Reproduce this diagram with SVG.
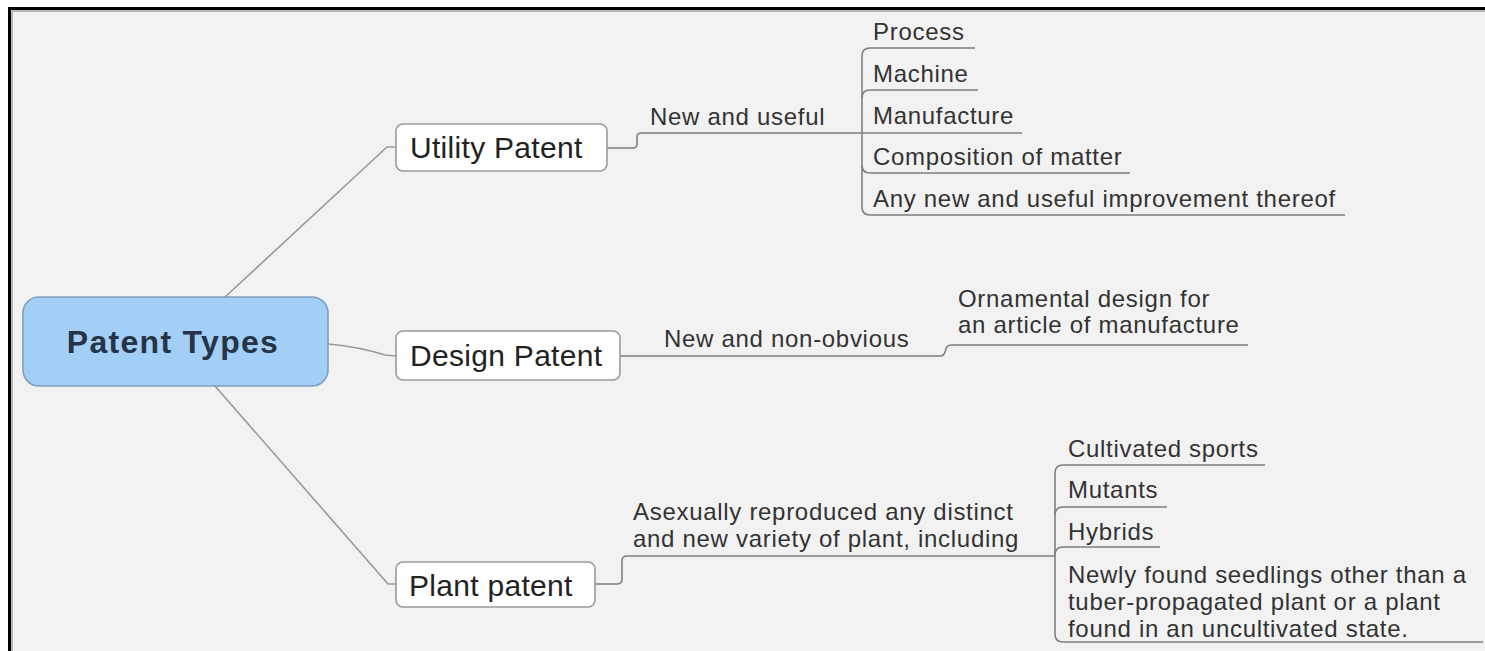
<svg xmlns="http://www.w3.org/2000/svg" width="1485" height="651" viewBox="0 0 1485 651">
<style>
.bg{fill:#f2f2f2}
.frame{stroke:#000;stroke-width:3;fill:none}
.inner{stroke:#b5b5b5;stroke-width:2;fill:none}
.conn{stroke:#9a9a9a;stroke-width:1.6;fill:none}
.ul{stroke:#7f7f7f;stroke-width:1.6;fill:none}
.box{fill:#fff;stroke:#9a9a9a;stroke-width:1.6}
.root{fill:#a3cff6;stroke:#7f9fbf;stroke-width:1.6}
.rt{font-family:"Liberation Sans",Arial,sans-serif;font-weight:bold;font-size:32px;letter-spacing:1.3px;fill:#253547}
.bt{font-family:"Liberation Sans",Arial,sans-serif;font-size:30px;letter-spacing:0.3px;fill:#222}
.lt{font-family:"Liberation Sans",Arial,sans-serif;font-size:24px;letter-spacing:0.7px;fill:#333}
</style>
<rect x="0" y="0" width="1485" height="651" fill="#fff"/>
<rect class="bg" x="10" y="9" width="1475" height="642"/>
<g id="frame">
<line class="inner" x1="12" y1="11" x2="1485" y2="11"/>
<line class="inner" x1="12" y1="11" x2="12" y2="651"/>
<line class="frame" x1="8" y1="8.5" x2="1485" y2="8.5"/>
<line class="frame" x1="9.5" y1="7" x2="9.5" y2="651"/>
</g>
<g id="connectors">
<path class="conn" d="M225,297 L387,147 L396,147"/>
<path class="conn" d="M328,344 Q360,347 385,355 L396,356"/>
<path class="conn" d="M215,386 L388,584 L396,584"/>
<path class="ul" d="M607,148 L633,148 Q637,148 637,144 L637,137 Q637,133 641,133 L862,133"/>
<path class="ul" d="M862,133 L1022,133"/>
<path class="ul" d="M975,48 L870,48 Q862,48 862,56 L862,207 Q862,215 870,215 L1345,215"/>
<path class="ul" d="M862,98 Q862,90 870,90 L978,90"/>
<path class="ul" d="M862,165 Q862,173 870,173 L1130,173"/>
<path class="ul" d="M620,356 L940,356 Q944,356 945,352 L946,349 Q947,345 952,345 L1248,345"/>
<path class="ul" d="M595,584 L617,584 Q622,584 622,579 L622,561 Q622,556 627,556 L1055,556"/>
<path class="ul" d="M1265,465 L1063,465 Q1055,465 1055,473 L1055,634 Q1055,642 1063,642 L1483,642"/>
<path class="ul" d="M1055,515 Q1055,507 1063,507 L1167,507"/>
<path class="ul" d="M1055,555 Q1055,547 1063,547 L1160,547"/>
</g>
<g id="patent-types">
<rect class="root" x="23" y="297" width="305" height="89" rx="16"/>
<text class="rt" x="173" y="353" text-anchor="middle">Patent Types</text>
</g>
<g id="utility-patent">
<rect class="box" x="396" y="124" width="211" height="47" rx="7"/>
<text class="bt" x="410" y="158">Utility Patent</text>
</g>
<g id="design-patent">
<rect class="box" x="396" y="331" width="224" height="49" rx="7"/>
<text class="bt" x="410" y="366">Design Patent</text>
</g>
<g id="plant-patent">
<rect class="box" x="396" y="562" width="199" height="45" rx="7"/>
<text class="bt" x="409" y="596">Plant patent</text>
</g>
<g id="new-and-useful"><text class="lt" x="650" y="125">New and useful</text></g>
<g id="process"><text class="lt" x="873" y="40">Process</text></g>
<g id="machine"><text class="lt" x="873" y="82">Machine</text></g>
<g id="manufacture"><text class="lt" x="873" y="124">Manufacture</text></g>
<g id="composition"><text class="lt" x="873" y="165">Composition of matter</text></g>
<g id="improvement"><text class="lt" x="873" y="207">Any new and useful improvement thereof</text></g>
<g id="new-non-obvious"><text class="lt" x="664" y="347">New and non-obvious</text></g>
<g id="ornamental"><text class="lt" x="958" y="307">Ornamental design for</text><text class="lt" x="958" y="333">an article of manufacture</text></g>
<g id="asexually"><text class="lt" x="633" y="520">Asexually reproduced any distinct</text><text class="lt" x="633" y="547">and new variety of plant, including</text></g>
<g id="cultivated"><text class="lt" x="1068" y="457">Cultivated sports</text></g>
<g id="mutants"><text class="lt" x="1068" y="498">Mutants</text></g>
<g id="hybrids"><text class="lt" x="1068" y="540">Hybrids</text></g>
<g id="newly"><text class="lt" x="1068" y="583">Newly found seedlings other than a</text><text class="lt" x="1068" y="610">tuber-propagated plant or a plant</text><text class="lt" x="1068" y="637">found in an uncultivated state.</text></g>
</svg>
